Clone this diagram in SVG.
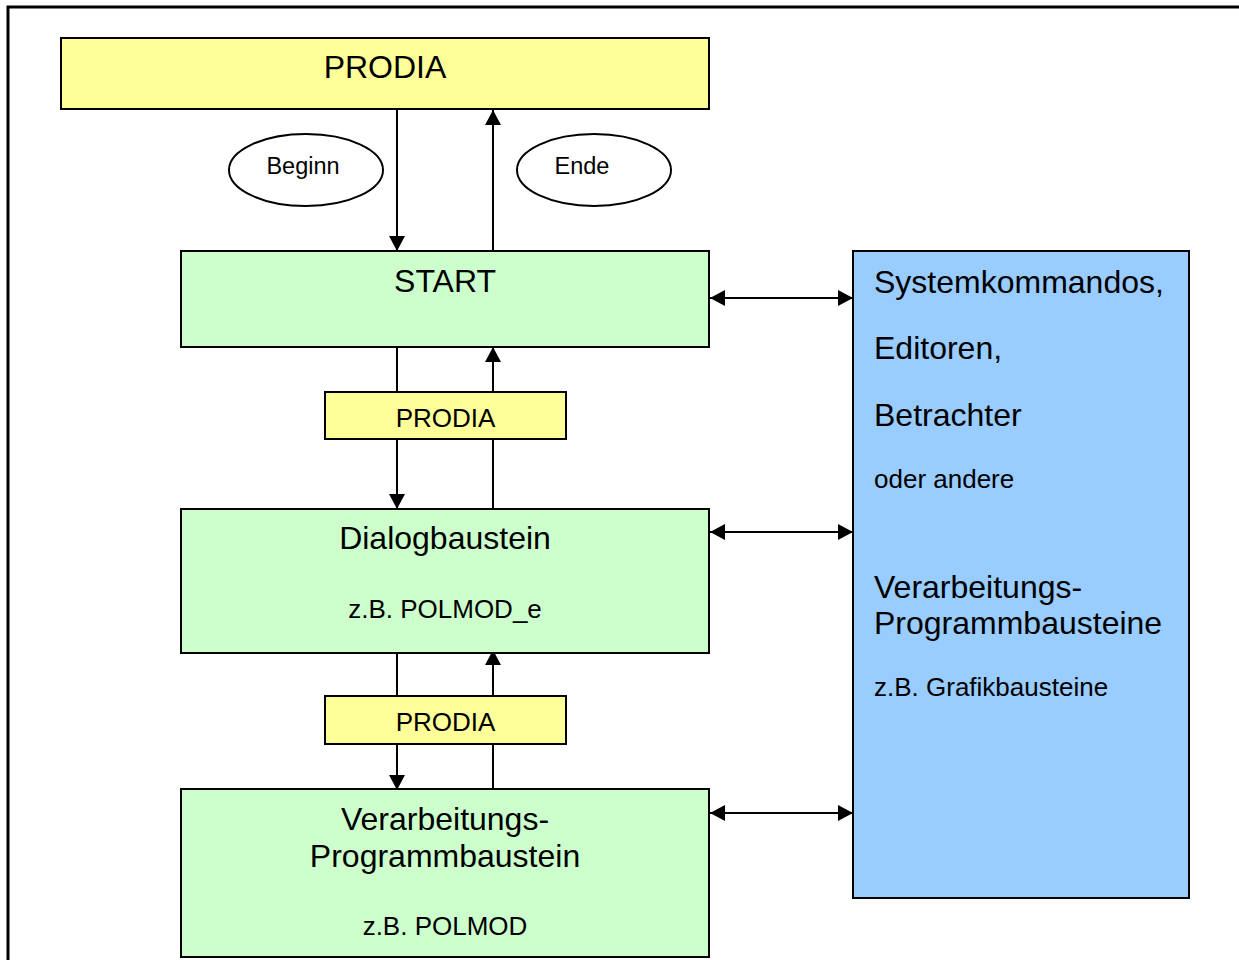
<svg xmlns="http://www.w3.org/2000/svg" width="1239" height="960" viewBox="0 0 1239 960">
<defs>
<marker id="ah" markerUnits="userSpaceOnUse" markerWidth="16" markerHeight="16" refX="15" refY="8" orient="auto-start-reverse">
<path d="M0,0 L15,8 L0,16 z" fill="#000"/>
</marker>
<style>
.t{font-family:"Liberation Sans",Arial,sans-serif;fill:#000}
.b{stroke:#000;stroke-width:2}
.y{fill:#FFFF99}
.g{fill:#CCFFCC}
.bl{fill:#99CCFF}
.c{stroke:#000;stroke-width:2;fill:none}
.a{marker-end:url(#ah)}
.d{marker-start:url(#ah);marker-end:url(#ah)}
</style>
</defs>
<rect x="0" y="0" width="1239" height="960" fill="#fff"/>
<path d="M8,970 L8,7 L1250,7" fill="none" stroke="#000" stroke-width="3"/>
<g id="connectors">
<line class="c a" x1="397" y1="110" x2="397" y2="251"/>
<line class="c a" x1="493" y1="254" x2="493" y2="110"/>
<line class="c" x1="397" y1="344" x2="397" y2="392"/>
<line class="c a" x1="397" y1="439" x2="397" y2="509"/>
<line class="c" x1="493" y1="513" x2="493" y2="439"/>
<line class="c a" x1="493" y1="392" x2="493" y2="347"/>
<line class="c" x1="397" y1="649" x2="397" y2="696"/>
<line class="c a" x1="397" y1="744" x2="397" y2="790"/>
<line class="c" x1="493" y1="794" x2="493" y2="744"/>
<line class="c a" x1="493" y1="696" x2="493" y2="650"/>
<line class="c d" x1="710" y1="298" x2="853" y2="298"/>
<line class="c d" x1="710" y1="532" x2="853" y2="532"/>
<line class="c d" x1="710" y1="813" x2="853" y2="813"/>
</g>
<g id="prodia-top">
<rect class="b y" x="61" y="38" width="648" height="71"/>
<text class="t" x="385" y="78" font-size="32" text-anchor="middle">PRODIA</text>
</g>
<g id="beginn">
<ellipse cx="306" cy="170" rx="77" ry="36" fill="#fff" stroke="#000" stroke-width="2"/>
<text class="t" x="303" y="174" font-size="23.5" text-anchor="middle">Beginn</text>
</g>
<g id="ende">
<ellipse cx="594" cy="170" rx="77" ry="36" fill="#fff" stroke="#000" stroke-width="2"/>
<text class="t" x="582" y="174" font-size="23.5" text-anchor="middle">Ende</text>
</g>
<g id="start">
<rect class="b g" x="181" y="251" width="528" height="96"/>
<text class="t" x="445" y="292" font-size="32" text-anchor="middle">START</text>
</g>
<g id="prodia-1">
<rect class="b y" x="325" y="392" width="241" height="47"/>
<text class="t" x="445.5" y="427" font-size="26" text-anchor="middle">PRODIA</text>
</g>
<g id="dialog">
<rect class="b g" x="181" y="509" width="528" height="144"/>
<text class="t" x="445" y="549" font-size="32" text-anchor="middle">Dialogbaustein</text>
<text class="t" x="445" y="618" font-size="26" text-anchor="middle">z.B. POLMOD_e</text>
</g>
<g id="prodia-2">
<rect class="b y" x="325" y="696" width="241" height="48"/>
<text class="t" x="445.5" y="731" font-size="26" text-anchor="middle">PRODIA</text>
</g>
<g id="verarbeitung">
<rect class="b g" x="181" y="789" width="528" height="168"/>
<text class="t" x="445" y="830" font-size="32" text-anchor="middle">Verarbeitungs-</text>
<text class="t" x="445" y="867" font-size="32" text-anchor="middle">Programmbaustein</text>
<text class="t" x="445" y="935" font-size="26" text-anchor="middle">z.B. POLMOD</text>
</g>
<g id="system">
<rect class="b bl" x="853" y="251" width="336" height="647"/>
<text class="t" x="874" y="293" font-size="32">Systemkommandos,</text>
<text class="t" x="874" y="359" font-size="32">Editoren,</text>
<text class="t" x="874" y="426" font-size="32">Betrachter</text>
<text class="t" x="874" y="488" font-size="26">oder andere</text>
<text class="t" x="874" y="598" font-size="32">Verarbeitungs-</text>
<text class="t" x="874" y="634" font-size="32">Programmbausteine</text>
<text class="t" x="874" y="696" font-size="26">z.B. Grafikbausteine</text>
</g>
</svg>
